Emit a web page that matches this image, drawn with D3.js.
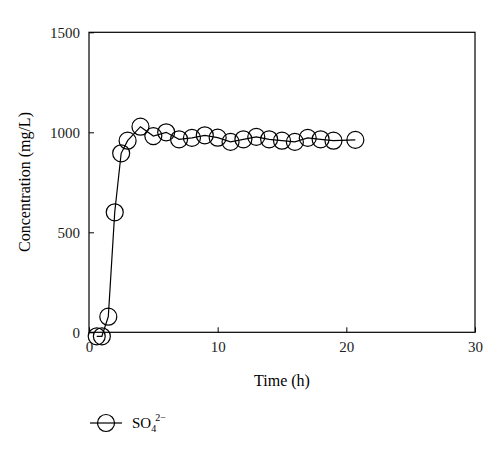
<!DOCTYPE html>
<html><head><meta charset="utf-8">
<script src="https://cdn.jsdelivr.net/npm/d3@7"></script>
<style>body{margin:0;background:#fff}text{font-family:"Liberation Serif","DejaVu Serif",serif}</style>
</head><body><div id="chart"></div>
<script>
const timeH = [0.6, 1.0, 1.5, 2.0, 2.5, 3.0, 4.0, 5, 6, 7, 8, 9, 10, 11, 12, 13, 14, 15, 16, 17, 18, 19, 20.7];
const so4 = [-20, -20, 78, 600, 895, 958, 1028, 981, 1000, 965, 972, 985, 973, 952, 965, 977, 965, 958, 952, 972, 965, 958, 962];
const xTicks = [0, 10, 20, 30];
const yTicks = [0, 500, 1000, 1500];

const svg = d3.select('#chart').append('svg').attr('width', 500).attr('height', 452);
const x = d3.scaleLinear().domain([0, 30]).range([89, 475]);
const y = d3.scaleLinear().domain([0, 1500]).range([332.3, 32.3]);

svg.append('rect').attr('x', 89).attr('y', 32.3).attr('width', 386).attr('height', 300)
  .attr('fill', 'none').attr('stroke', '#000').attr('stroke-width', 1.2);

const xa = svg.append('g').attr('transform', 'translate(0,332.3)')
  .call(d3.axisBottom(x).tickValues(xTicks).tickFormat(d3.format('d')).tickSize(-5).tickPadding(9));
const ya = svg.append('g').attr('transform', 'translate(89,0)')
  .call(d3.axisLeft(y).tickValues(yTicks).tickFormat(d3.format('d')).tickSize(-5).tickPadding(9));
[xa, ya].forEach(a => {
  a.select('.domain').remove();
  a.selectAll('text').style('font-size', '15px').attr('fill', '#222');
});

svg.append('text').attr('x', 282).attr('y', 386).attr('text-anchor', 'middle')
  .style('font-size', '16px').text('Time (h)');
svg.append('text').attr('transform', 'translate(30,182) rotate(-90)').attr('text-anchor', 'middle')
  .style('font-size', '16px').text('Concentration (mg/L)');

const data = timeH.map((t, i) => ({t, v: so4[i]}));
svg.append('path').datum(data).attr('fill', 'none').attr('stroke', '#000').attr('stroke-width', 1.2)
  .attr('d', d3.line().x(d => x(d.t)).y(d => y(d.v)));
svg.selectAll('circle.pt').data(data).join('circle').attr('class', 'pt')
  .attr('cx', d => x(d.t)).attr('cy', d => y(d.v)).attr('r', 8.5)
  .attr('fill', 'none').attr('stroke', '#000').attr('stroke-width', 1.2);

// legend
svg.append('line').attr('x1', 90).attr('x2', 122).attr('y1', 423).attr('y2', 423).attr('stroke', '#000').attr('stroke-width', 1.2);
svg.append('circle').attr('cx', 106).attr('cy', 423).attr('r', 8.5).attr('fill', 'none').attr('stroke', '#000').attr('stroke-width', 1.2);
const lt = svg.append('text').attr('x', 132).attr('y', 428).style('font-size', '15px');
lt.append('tspan').text('SO');
lt.append('tspan').attr('dy', 4).style('font-size', '10px').text('4');
lt.append('tspan').attr('dy', -11).attr('dx', -1).style('font-size', '10px').text('2−');
</script></body></html>
